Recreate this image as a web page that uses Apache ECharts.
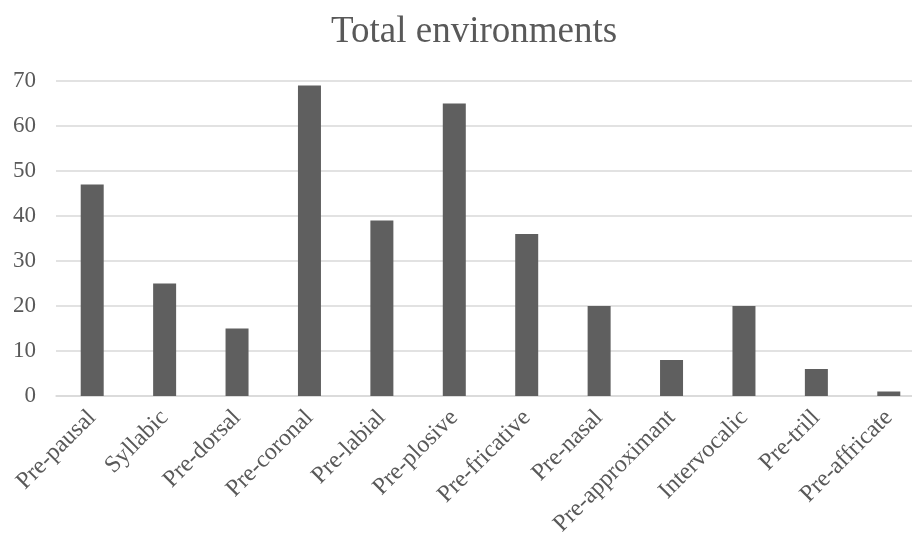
<!DOCTYPE html>
<html>
<head>
<meta charset="utf-8">
<script src="https://cdn.jsdelivr.net/npm/echarts@6/dist/echarts.min.js"></script>
<style>
  html, body { margin: 0; padding: 0; background: #fff; }
  #chart { width: 912px; height: 533px; }
</style>
</head>
<body>
<div id="chart"></div>
<script>
const categories = ['Pre-pausal', 'Syllabic', 'Pre-dorsal', 'Pre-coronal', 'Pre-labial', 'Pre-plosive',
  'Pre-fricative', 'Pre-nasal', 'Pre-approximant', 'Intervocalic', 'Pre-trill', 'Pre-affricate']
const totals = [47, 25, 15, 69, 39, 65, 36, 20, 8, 20, 6, 1]

const chart = echarts.init(document.getElementById('chart'))
const font = 'Liberation Serif'

// the plot area runs a little past the right edge of the picture
chart.setOption({
  animation: false,
  title: {
    text: 'Total environments',
    left: 326,
    top: 9,
    textStyle: { fontFamily: font, fontSize: 37, fontWeight: 'normal', color: '#595959' }
  },
  grid: { left: 56, right: -13, top: 81, bottom: 137, outerBoundsMode: 'none', containLabel: false },
  xAxis: {
    type: 'category',
    data: categories,
    axisLine: { lineStyle: { color: '#d9d9d9', width: 1.5 } },
    axisTick: { show: false },
    axisLabel: {
      rotate: 45,
      interval: 0,
      margin: 18,
      fontFamily: font,
      fontSize: 24,
      color: '#595959'
    }
  },
  yAxis: {
    type: 'value',
    min: 0,
    max: 70,
    interval: 10,
    axisLine: { show: false },
    axisTick: { show: false },
    splitLine: { lineStyle: { color: '#d9d9d9', width: 1.5 } },
    axisLabel: { margin: 20, fontFamily: font, fontSize: 23, color: '#595959' }
  },
  series: [{
    type: 'bar',
    data: totals,
    barWidth: 23,
    itemStyle: { color: '#5f5f5f' }
  }]
})
</script>
</body>
</html>
